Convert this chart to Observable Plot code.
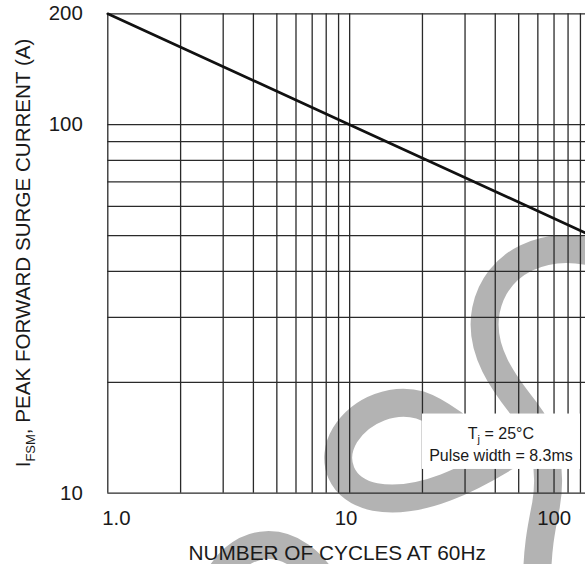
<!DOCTYPE html>
<html><head><meta charset="utf-8">
<script src="https://cdn.jsdelivr.net/npm/d3@7"></script>
<script src="https://cdn.jsdelivr.net/npm/@observablehq/plot@0.6"></script>
<style>
html,body{margin:0;padding:0;background:#fff;}
#chart{width:585px;height:564px;overflow:hidden;}
</style></head><body><div id="chart"></div>
<script>
// ---- data ----
const cycles = [1, 10, 100];
const surgeCurrent = [200, 100, 50];
const xGrid = [1, 2, 3, 4, 5, 6, 7, 8, 9, 10, 20, 30, 40, 50, 60, 70, 80, 90, 100];
const yGrid = [10, 20, 30, 40, 50, 60, 70, 80, 90, 100, 200];
const xTickValues = [1, 10, 100];
const xTickLabels = ["1.0", "10", "100"];
const yTickValues = [10, 100, 200];
const yTickLabels = ["10", "100", "200"];
const xTitle = "NUMBER OF CYCLES AT 60Hz";
const yTitleParts = ["I", "FSM", ", PEAK FORWARD SURGE CURRENT (A)"];
const noteBox = [{x1: 20, x2: 90, y1: 11.6, y2: 16.4}];
const noteLine1 = ["T", "j", " = 25°C"];
const noteLine2 = "Pulse width = 8.3ms";

// ---- layout / style ----
const W = 585, H = 564, L = 107.3, T = 13.3, B = 492.7, R = 591;
const font = "'Liberation Sans', Arial, Helvetica, sans-serif";
const gridColor = "#2a2a2a";
const textColor = "#1a1a1a";
const tickFont = 20.4;
// watermark (decorative "S" logo behind the chart), pixel paths
const watermarkPaths = [
  "M 600 254 C 545 238, 496 262, 486 310 C 478 350, 505 385, 525 410 C 545 435, 552 470, 546 505 C 541 530, 537 550, 537 585",
  "M 520 448 C 470 480, 420 505, 375 497 C 340 490, 330 460, 345 435 C 362 408, 395 398, 420 405 C 435 410, 445 418, 455 425",
  "M 212 592 C 234 533, 296 526, 330 592"
];

const curve = cycles.map((c, i) => ({cycles: c, current: surgeCurrent[i]}));

const plot = Plot.plot({
  width: W, height: H,
  marginLeft: L, marginTop: T, marginBottom: H - B, marginRight: 0,
  style: {fontFamily: font, background: "white", overflow: "hidden"},
  x: {type: "log", domain: [1, 100], range: [L, R], axis: null},
  y: {type: "log", domain: [10, 200], range: [B, T], axis: null},
  marks: [
    Plot.ruleX(xGrid, {x: d => d, y1: 10, y2: 200, stroke: gridColor, strokeWidth: 1.3}),
    Plot.ruleY(yGrid, {y: d => d, x1: 1, x2: 100, stroke: gridColor, strokeWidth: 1.3}),
    Plot.rect(noteBox, {x1: "x1", x2: "x2", y1: "y1", y2: "y2", fill: "white"}),
    Plot.line(curve, {x: "cycles", y: "current", stroke: "#111", strokeWidth: 2.7}),
    Plot.text(yTickValues, {x: () => 1, y: d => d, text: (d, i) => yTickLabels[i], textAnchor: "end", lineAnchor: "middle", dx: -25, fontSize: tickFont, fill: textColor}),
    Plot.text([0], {x: () => xTickValues[0], frameAnchor: "bottom", text: () => xTickLabels[0], textAnchor: "start", lineAnchor: "top", dx: -5.6, dy: 17.8, fontSize: tickFont, fill: textColor}),
    Plot.text([1], {x: () => xTickValues[1], frameAnchor: "bottom", text: () => xTickLabels[1], textAnchor: "middle", lineAnchor: "top", dx: -3.6, dy: 17.8, fontSize: tickFont, fill: textColor}),
    Plot.text([2], {x: () => xTickValues[2], frameAnchor: "bottom", text: () => xTickLabels[2], textAnchor: "end", lineAnchor: "top", dx: -20.3, dy: 17.8, fontSize: tickFont, fill: textColor}),
    Plot.text([xTitle], {frameAnchor: "bottom", text: d => d, lineAnchor: "bottom", dx: -9.5, dy: 66.3, fontSize: 20.8, fill: textColor})
  ]
});

const svg = d3.select(plot);
// watermark beneath all marks
const firstG = plot.querySelector("g");
const wm = document.createElementNS("http://www.w3.org/2000/svg", "g");
plot.insertBefore(wm, firstG);
d3.select(wm).selectAll("path").data(watermarkPaths).join("path")
  .attr("d", d => d).attr("fill", "none").attr("stroke", "#b3b3b3").attr("stroke-width", 28);

// y-axis title with subscript
const yt = svg.append("text")
  .attr("transform", `translate(30,${(T + B) / 2}) rotate(-90)`)
  .attr("text-anchor", "middle")
  .attr("font-family", font).attr("font-size", 20.6).attr("fill", textColor);
yt.append("tspan").text(yTitleParts[0]);
yt.append("tspan").attr("font-size", 13).attr("dy", 5).text(yTitleParts[1]);
yt.append("tspan").attr("dy", -5).text(yTitleParts[2]);

// note text inside box
const sx = plot.scale("x").apply, sy = plot.scale("y").apply;
const cx = (sx(noteBox[0].x1) + sx(noteBox[0].x2)) / 2;
const boxBottom = sy(noteBox[0].y1);
const t1 = svg.append("text").attr("x", cx).attr("y", boxBottom - 30.3)
  .attr("text-anchor", "middle").attr("font-family", font).attr("font-size", 16).attr("fill", textColor);
t1.append("tspan").text(noteLine1[0]);
t1.append("tspan").attr("font-size", 11).attr("dy", 4).text(noteLine1[1]);
t1.append("tspan").attr("dy", -4).text(noteLine1[2]);
svg.append("text").attr("x", cx).attr("y", boxBottom - 8.3)
  .attr("text-anchor", "middle").attr("font-family", font).attr("font-size", 16).attr("fill", textColor)
  .text(noteLine2);

document.getElementById("chart").appendChild(plot);
</script>
</body></html>
